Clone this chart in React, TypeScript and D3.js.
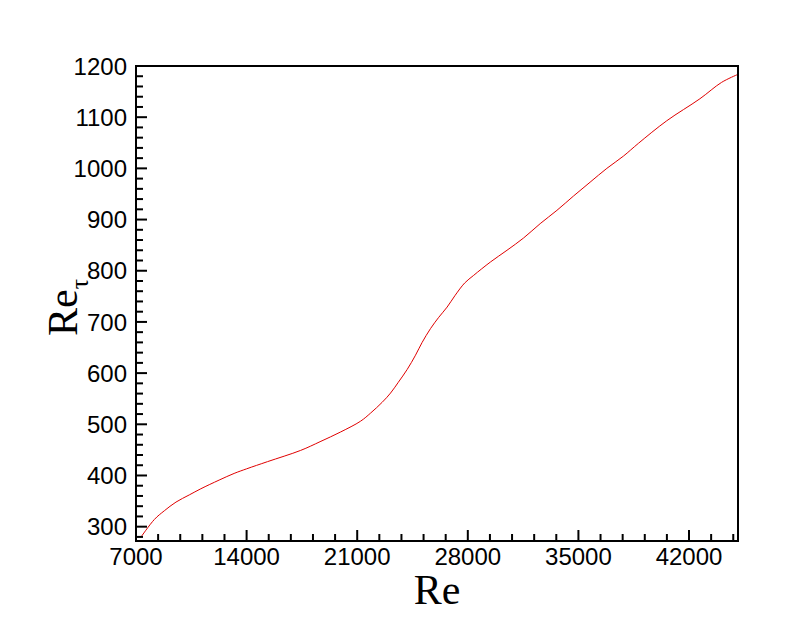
import React from 'react'
import * as d3 from 'd3'

// Re vs Re_tau
const re = [7300, 8160, 8790, 9530, 10370, 11100, 12260, 13210, 14000, 15320, 17420, 18650, 19950, 21210, 21850, 22580, 23110, 23600, 24160, 24690, 25110, 25640, 26160, 26690, 27200, 27800, 28370, 29430, 30480, 31530, 32580, 33640, 34690, 35740, 36800, 37850, 38800, 40590, 42690, 44060, 45050]
const reTau = [279, 314, 331, 348, 362, 374, 391, 404, 413, 427, 449, 466, 485, 506, 522, 543, 561, 582, 607, 635, 660, 687, 709, 729, 752, 776, 791, 817, 840, 864, 892, 918, 946, 973, 1000, 1024, 1049, 1093, 1136, 1168, 1183]

const xTicks = [7000, 14000, 21000, 28000, 35000, 42000]
const yTicks = [300, 400, 500, 600, 700, 800, 900, 1000, 1100, 1200]

const W = 806
const H = 619
const margin = { top: 66, right: 68, bottom: 78, left: 136 }

export default function App() {
    const x = d3.scaleLinear()
        .domain([7000, 45100])
        .range([margin.left, W - margin.right])
    const y = d3.scaleLinear()
        .domain([272, 1200])
        .range([H - margin.bottom, margin.top])

    const x0 = margin.left
    const x1 = W - margin.right
    const y0 = H - margin.bottom
    const y1 = margin.top

    const xMinor = d3.range(7000, 45100, 1400).filter(v => !xTicks.includes(v))
    const yMinor = d3.range(280, 1200, 20).filter(v => v % 100 !== 0)

    const pts = re.map((r, i) => [r, reTau[i]] as [number, number])
    const line = d3.line<[number, number]>()
        .x(d => x(d[0]))
        .y(d => y(d[1]))
        .curve(d3.curveCatmullRom.alpha(0.5))

    const tickFont = '"Liberation Sans", Arial, sans-serif'
    const titleFont = '"Liberation Serif", "Times New Roman", serif'

    return (
        <svg width={W} height={H} style={{ position: 'absolute', left: 0, top: 0, background: '#fff' }}>
            <path d={line(pts) ?? ''} fill="none" stroke="#e00000" strokeWidth={1} />

            {/* frame */}
            <rect x={x0} y={y1} width={x1 - x0} height={y0 - y1} fill="none" stroke="#000" strokeWidth={2} />

            {/* x ticks */}
            {xTicks.map(t => (
                <g key={t}>
                    <line x1={x(t)} x2={x(t)} y1={y0} y2={y0 - 11} stroke="#000" strokeWidth={2} />
                    <text x={x(t)} y={y0 + 24} textAnchor="middle" fontFamily={tickFont} fontSize={24}>{t}</text>
                </g>
            ))}
            {xMinor.map(t => (
                <line key={t} x1={x(t)} x2={x(t)} y1={y0} y2={y0 - 7} stroke="#000" strokeWidth={2} />
            ))}

            {/* y ticks */}
            {yTicks.map(t => (
                <g key={t}>
                    <line x1={x0} x2={x0 + 11} y1={y(t)} y2={y(t)} stroke="#000" strokeWidth={2} />
                    <text x={x0 - 9} y={y(t)} dy="0.36em" textAnchor="end" fontFamily={tickFont} fontSize={24}>{t}</text>
                </g>
            ))}
            {yMinor.map(t => (
                <line key={t} x1={x0} x2={x0 + 7} y1={y(t)} y2={y(t)} stroke="#000" strokeWidth={2} />
            ))}

            {/* axis titles */}
            <text x={(x0 + x1) / 2} y={604} textAnchor="middle" fontFamily={titleFont} fontSize={42}>Re</text>
            <text transform="translate(77, 336) rotate(-90)" fontFamily={titleFont} fontSize={42}>
                Re<tspan fontSize={26} dy={11}>τ</tspan>
            </text>
        </svg>
    )
}
